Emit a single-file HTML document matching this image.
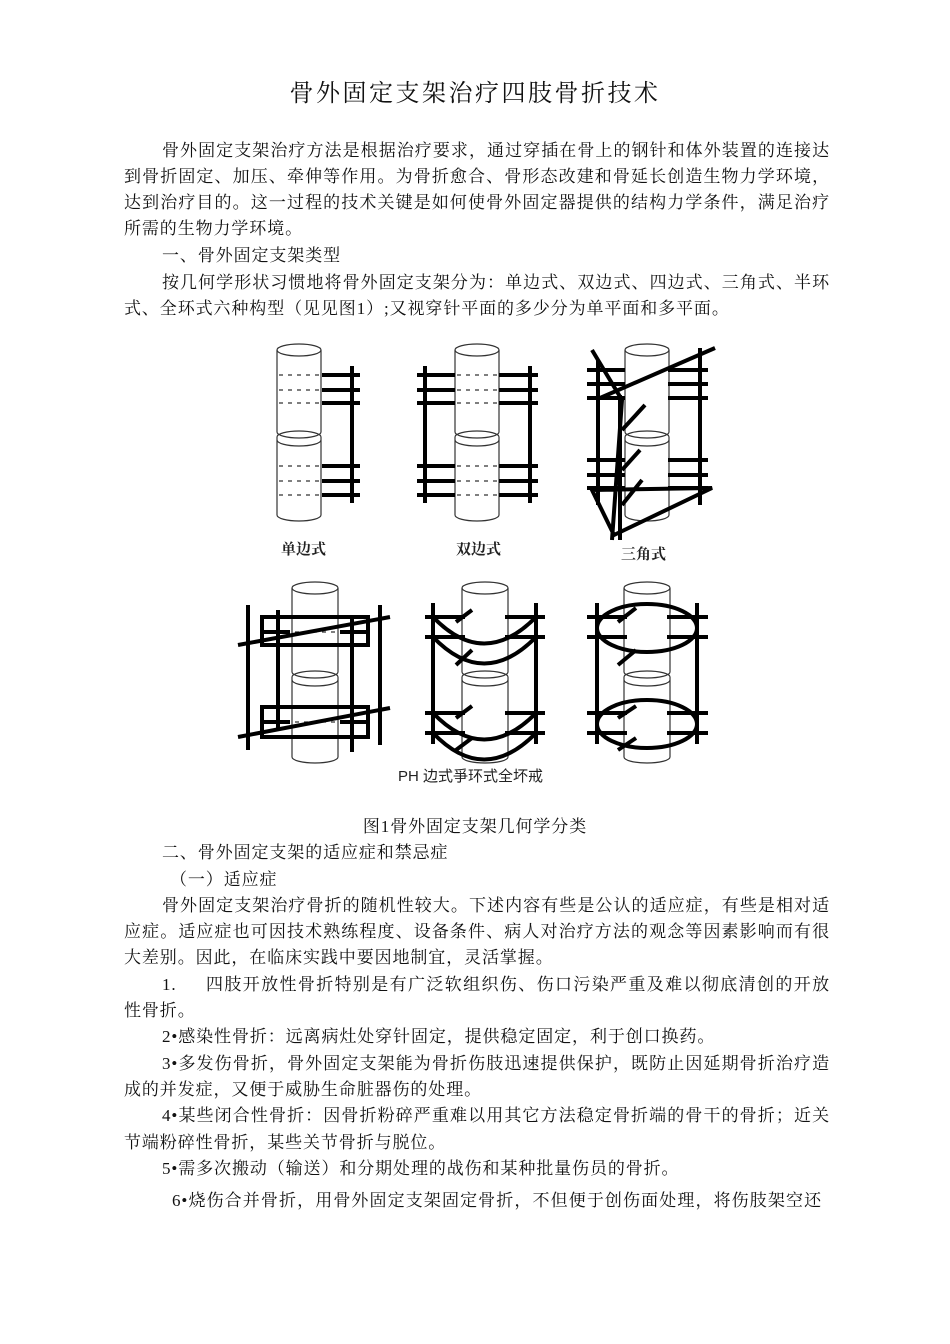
<!DOCTYPE html>
<html><head><meta charset="utf-8"><style>
body{margin:0;background:#fff;width:950px;height:1344px;position:relative;overflow:hidden;font-family:"Liberation Serif","Noto Serif CJK SC",serif;color:#111}
.l{position:absolute;left:124px;width:706px;font-size:17px;line-height:20px;white-space:nowrap;letter-spacing:0.9px}
.j{text-align:justify;text-align-last:justify;white-space:normal;height:20px;overflow:hidden}
.t{position:absolute;left:0;width:950px;text-align:center;font-size:24px;top:73px;letter-spacing:2.5px}
</style></head><body>
<div class="t">骨外固定支架治疗四肢骨折技术</div>
<div class="l j" style="top:141px;left:162px;width:668px">骨外固定支架治疗方法是根据治疗要求，通过穿插在骨上的钢针和体外装置的连接达</div>
<div class="l j" style="top:167px">到骨折固定、加压、牵伸等作用。为骨折愈合、骨形态改建和骨延长创造生物力学环境，</div>
<div class="l j" style="top:193px">达到治疗目的。这一过程的技术关键是如何使骨外固定器提供的结构力学条件，满足治疗</div>
<div class="l" style="top:219px">所需的生物力学环境。</div>
<div class="l" style="top:246px;left:162px">一、骨外固定支架类型</div>
<div class="l j" style="top:273px;left:162px;width:668px">按几何学形状习惯地将骨外固定支架分为：单边式、双边式、四边式、三角式、半环</div>
<div class="l" style="top:299px">式、全环式六种构型（见见图1）;又视穿针平面的多少分为单平面和多平面。</div>

<svg style="position:absolute;left:0;top:0" width="950" height="800">
<g fill="none" stroke="#333" stroke-width="1.2">
<g id="c1"><ellipse cx="299" cy="350" rx="22" ry="6"/><line x1="277" y1="350" x2="277" y2="432"/><line x1="321" y1="350" x2="321" y2="432"/><path d="M277 432 A22 6 0 0 0 321 432"/><path d="M277 437 A22 6 0 0 1 321 437"/><path d="M277 440 A22 6 0 0 0 321 440"/><line x1="277" y1="437" x2="277" y2="515"/><line x1="321" y1="437" x2="321" y2="515"/><path d="M277 515 A22 6 0 0 0 321 515"/></g>
<use href="#c1" x="178"/><use href="#c1" x="348"/>
<g id="c2"><ellipse cx="315" cy="588" rx="23" ry="6"/><line x1="292" y1="588" x2="292" y2="672"/><line x1="338" y1="588" x2="338" y2="672"/><path d="M292 672 A23 6 0 0 0 338 672"/><path d="M292 677 A23 6 0 0 1 338 677"/><path d="M292 680 A23 6 0 0 0 338 680"/><line x1="292" y1="677" x2="292" y2="757"/><line x1="338" y1="677" x2="338" y2="757"/><path d="M292 757 A23 6 0 0 0 338 757"/></g>
<use href="#c2" x="170"/><use href="#c2" x="332"/>
</g>
<g stroke="#333" stroke-width="1.2" stroke-dasharray="4,5">
<path d="M279 375H320M279 390H320M279 403H320M279 466H320M279 481H320M279 495H320"/>
<path d="M457 375H498M457 390H498M457 403H498M457 466H498M457 481H498M457 495H498"/>
<path d="M295 617H336M295 632H336M295 645H336M295 707H336M295 722H336M295 737H336"/>
</g>
<g stroke="#000" stroke-width="4" fill="none">
<path d="M322 375H360M322 390H360M322 403H360M322 466H360M322 481H360M322 495H360M352 366V503"/>
<path d="M417 375H455M417 390H455M417 403H455M417 466H455M417 481H455M417 495H455M425 366V503"/>
<path d="M499 375H538M499 390H538M499 403H538M499 466H538M499 481H538M499 495H538M530 366V503"/>
<path d="M587 370H625M587 384H625M587 398H625M587 460H625M587 475H625M587 488H625"/>
<path d="M668 370H708M668 384H708M668 398H708M668 460H708M668 475H708M668 488H708"/>
<path d="M598 360V505M700 348V505M620 395V540"/>
<path d="M592 350L622 400L612 540M600 398L715 348M592 490L614 535L712 488Z"/>
<path d="M622 430L645 405M622 470L640 450M622 505L642 480"/>
<rect x="262" y="617" width="106" height="28"/><rect x="262" y="707" width="106" height="30"/>
<path d="M248 605V750M278 610V730M352 615V752M380 605V745"/>
<path d="M238 645L390 617M238 737L390 708M262 632H290M340 632H368M262 722H290M340 722H368"/>
<path d="M425 617H465M505 617H545M425 637H465M505 637H545M425 713H465M505 713H545M425 733H465M505 733H545"/>
<path d="M433 603V744M536 603V744"/>
<path d="M433 617Q484 670 536 617M433 637Q484 690 536 637M433 713Q484 766 536 713M433 733Q484 786 536 733"/>
<path d="M456 622L472 610M456 665L472 650M456 718L472 706M456 750L472 738"/>
<path d="M587 617H627M667 617H708M587 637H627M667 637H708M587 713H627M667 713H708M587 733H627M667 733H708"/>
<path d="M597 603V744M697 603V744"/>
<ellipse cx="647" cy="628" rx="50" ry="24"/><ellipse cx="647" cy="724" rx="50" ry="24"/>
<path d="M618 622L636 608M618 665L636 650M618 718L636 706M618 750L636 738"/>
</g>
<g font-family="Liberation Serif,'Noto Serif CJK SC',serif" font-weight="bold" font-size="15" fill="#222">
<text x="281" y="554">单边式</text><text x="456" y="554">双边式</text><text x="621" y="559">三角式</text>
</g>
<text x="398" y="781" font-family="Liberation Sans,'Noto Sans CJK SC',sans-serif" font-size="15" fill="#222">PH 边式爭环式全坏戒</text>
</svg>

<div class="l" style="top:817px;left:0;width:950px;text-align:center">图1骨外固定支架几何学分类</div>
<div class="l" style="top:843px;left:162px">二、骨外固定支架的适应症和禁忌症</div>
<div class="l" style="top:870px;left:170px">（一）适应症</div>
<div class="l j" style="top:896px;left:162px;width:668px">骨外固定支架治疗骨折的随机性较大。下述内容有些是公认的适应症，有些是相对适</div>
<div class="l j" style="top:922px">应症。适应症也可因技术熟练程度、设备条件、病人对治疗方法的观念等因素影响而有很</div>
<div class="l" style="top:948px">大差别。因此，在临床实践中要因地制宜，灵活掌握。</div>
<div class="l" style="top:975px;left:162px">1.</div>
<div class="l j" style="top:975px;left:206px;width:624px">四肢开放性骨折特别是有广泛软组织伤、伤口污染严重及难以彻底清创的开放</div>
<div class="l" style="top:1001px">性骨折。</div>
<div class="l" style="top:1027px;left:162px">2•感染性骨折：远离病灶处穿针固定，提供稳定固定，利于创口换药。</div>
<div class="l j" style="top:1054px;left:162px;width:668px">3•多发伤骨折，骨外固定支架能为骨折伤肢迅速提供保护，既防止因延期骨折治疗造</div>
<div class="l" style="top:1080px">成的并发症，又便于威胁生命脏器伤的处理。</div>
<div class="l j" style="top:1106px;left:162px;width:668px">4•某些闭合性骨折：因骨折粉碎严重难以用其它方法稳定骨折端的骨干的骨折；近关</div>
<div class="l" style="top:1133px">节端粉碎性骨折，某些关节骨折与脱位。</div>
<div class="l" style="top:1159px;left:162px">5•需多次搬动（输送）和分期处理的战伤和某种批量伤员的骨折。</div>
<div class="l j" style="top:1191px;left:172px;width:650px">6•烧伤合并骨折，用骨外固定支架固定骨折，不但便于创伤面处理，将伤肢架空还</div>
</body></html>
